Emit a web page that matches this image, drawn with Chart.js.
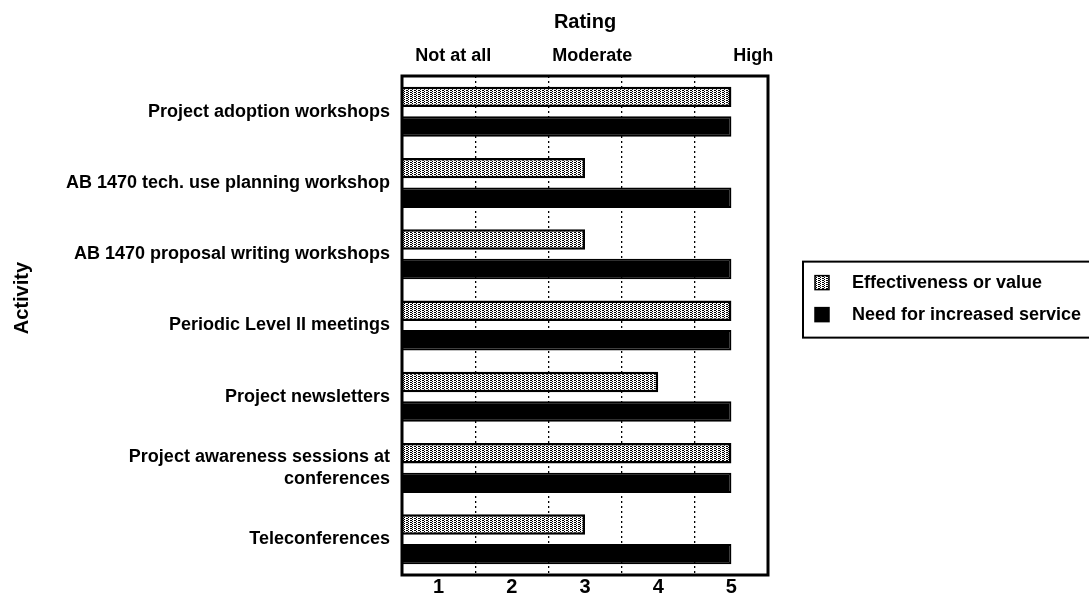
<!DOCTYPE html>
<html>
<head>
<meta charset="utf-8">
<script src="https://cdn.jsdelivr.net/npm/chart.js@4/dist/chart.umd.min.js"></script>
<style>
  html, body { margin: 0; padding: 0; background: #fff; }
  canvas { display: block; }
</style>
</head>
<body>
<canvas id="c" width="1089" height="603"></canvas>
<script>
// ---- data ----
const categories = [
  "Project adoption workshops",
  "AB 1470 tech. use planning workshop",
  "AB 1470 proposal writing workshops",
  "Periodic Level II meetings",
  "Project newsletters",
  ["Project awareness sessions at", "conferences"],
  "Teleconferences"
];
const effectiveness = [5, 3, 3, 5, 4, 5, 3];
const needIncreased = [5, 5, 5, 5, 5, 5, 5];
const seriesNames = ["Effectiveness or value", "Need for increased service"];
const bottomTickValues = [1, 2, 3, 4, 5];
const topTickValues = [1.2, 3.1, 5.3];
const topTickLabels = ["Not at all", "Moderate", "High"];
const xTitle = "Rating";
const yTitle = "Activity";

// ---- styles ----
const FONT = "'Liberation Sans', Arial, Helvetica, sans-serif";
Chart.defaults.font.family = FONT;
Chart.defaults.color = "#000";

function makePattern() {
  const t = document.createElement("canvas");
  t.width = 4; t.height = 2;
  const g = t.getContext("2d");
  g.fillStyle = "#fff";
  g.fillRect(0, 0, 4, 2);
  g.fillStyle = "#000";
  g.fillRect(2, 0, 2, 1);
  g.fillRect(0, 1, 1, 1);
  return document.getElementById("c").getContext("2d").createPattern(t, "repeat");
}
const pattern = makePattern();
const swatches = [pattern, "#000"];

const bgPlugin = {
  id: "bg",
  beforeDraw(chart) {
    const ctx = chart.ctx;
    ctx.save();
    ctx.fillStyle = "#fff";
    ctx.fillRect(0, 0, chart.width, chart.height);
    ctx.restore();
  }
};

const framePlugin = {
  id: "frame",
  afterDatasetsDraw(chart) {
    const a = chart.chartArea, ctx = chart.ctx;
    ctx.save();
    ctx.strokeStyle = "#000";
    ctx.lineWidth = 3;
    ctx.strokeRect(a.left, a.top, a.right - a.left, a.bottom - a.top);
    ctx.restore();
  }
};

const yTitlePlugin = {
  id: "ytitle",
  afterDraw(chart) {
    const a = chart.chartArea, ctx = chart.ctx;
    ctx.save();
    ctx.translate(22, a.top + (a.bottom - a.top) * 0.445);
    ctx.rotate(-Math.PI / 2);
    ctx.font = "bold 20px " + FONT;
    ctx.fillStyle = "#000";
    ctx.textAlign = "center";
    ctx.textBaseline = "middle";
    ctx.fillText(yTitle, 0, 0);
    ctx.restore();
  }
};

const legendPlugin = {
  id: "boxlegend",
  afterDraw(chart) {
    const a = chart.chartArea, ctx = chart.ctx;
    const x0 = a.right + 35, y0 = a.top + (a.bottom - a.top) * 0.372;
    const rowH = 32;
    ctx.save();
    ctx.strokeStyle = "#000";
    ctx.lineWidth = 2;
    ctx.strokeRect(x0, y0, 320, 76);
    ctx.font = "bold 18px " + FONT;
    ctx.textBaseline = "middle";
    ctx.textAlign = "left";
    chart.data.datasets.forEach((ds, i) => {
      const cy = y0 + 21 + i * rowH;
      ctx.fillStyle = swatches[i];
      ctx.fillRect(x0 + 12, cy - 7, 14, 14);
      ctx.strokeStyle = "#000";
      ctx.lineWidth = 1.5;
      ctx.strokeRect(x0 + 12, cy - 7, 14, 14);
      ctx.fillStyle = "#000";
      ctx.fillText(ds.label, x0 + 49, cy);
    });
    ctx.restore();
  }
};

new Chart(document.getElementById("c"), {
  type: "bar",
  data: {
    labels: categories,
    datasets: [
      {
        label: seriesNames[0],
        data: effectiveness,
        backgroundColor: pattern,
        borderColor: "#000",
        borderWidth: 2.5,
        base: 0.5,
        xAxisID: "x"
      },
      {
        label: seriesNames[1],
        data: needIncreased,
        backgroundColor: "#000",
        borderColor: "#000",
        borderWidth: 2,
        base: 0.5,
        xAxisID: "x"
      }
    ]
  },
  options: {
    indexAxis: "y",
    responsive: false,
    maintainAspectRatio: false,
    animation: false,
    devicePixelRatio: 1,
    barPercentage: 0.69,
    categoryPercentage: 0.83,
    layout: { padding: { left: 0, right: 321, top: 0, bottom: 0 } },
    plugins: {
      legend: { display: false },
      tooltip: { enabled: false }
    },
    scales: {
      x: {
        type: "linear",
        position: "bottom",
        min: 0.5,
        max: 5.5,
        afterBuildTicks(scale) { scale.ticks = bottomTickValues.map(v => ({ value: v })); },
        afterFit(scale) { scale.height = 28; },
        grid: {
          display: true,
          offset: true,
          color: "#000",
          lineWidth: 1.3,
          drawTicks: false
        },
        border: { display: false, dash: [2, 3] },
        ticks: {
          padding: 0,
          font: { size: 20, weight: "bold" },
          color: "#000",
          autoSkip: false,
          maxRotation: 0
        }
      },
      x2: {
        type: "linear",
        position: "top",
        min: 0.5,
        max: 5.5,
        afterBuildTicks(scale) { scale.ticks = topTickValues.map(v => ({ value: v })); },
        afterFit(scale) { scale.height = 76; },
        grid: { display: false, drawTicks: false },
        border: { display: false },
        title: {
          display: true,
          text: xTitle,
          font: { size: 20, weight: "bold" },
          color: "#000",
          padding: { top: 10, bottom: 0 }
        },
        ticks: {
          padding: 9,
          autoSkip: false,
          maxRotation: 0,
          font: { size: 18, weight: "bold" },
          color: "#000",
          callback(v) { const i = topTickValues.indexOf(v); return i >= 0 ? topTickLabels[i] : ""; }
        }
      },
      y: {
        type: "category",
        position: "left",
        afterFit(scale) { scale.width = 402; },
        grid: { display: false, drawTicks: false },
        border: { display: false },
        ticks: {
          padding: 12,
          autoSkip: false,
          font: { size: 18, weight: "bold" },
          color: "#000"
        }
      }
    }
  },
  plugins: [bgPlugin, framePlugin, yTitlePlugin, legendPlugin]
});
</script>
</body>
</html>
